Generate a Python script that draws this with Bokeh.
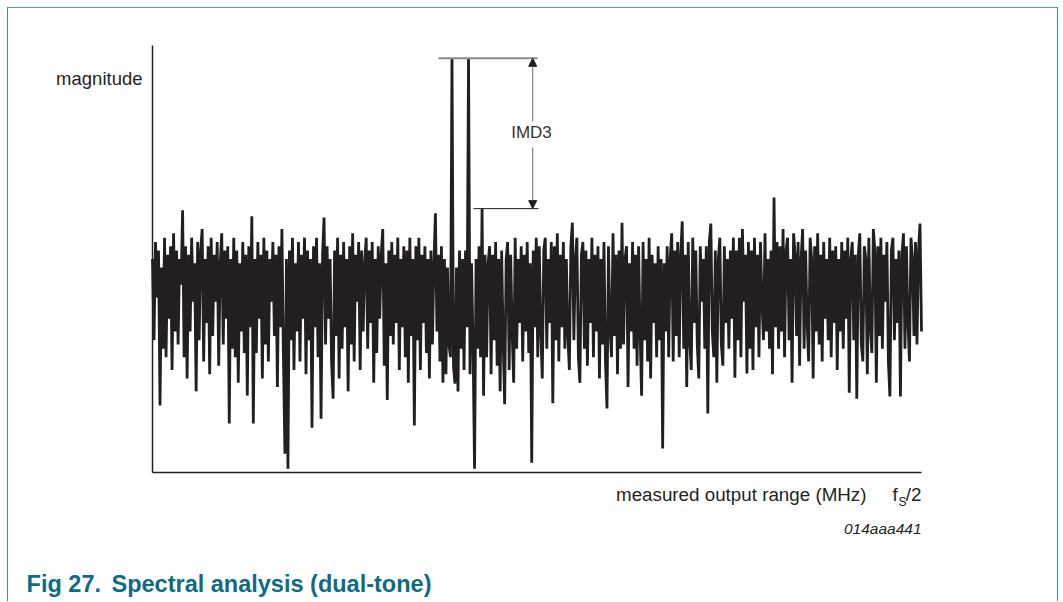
import numpy as np
from bokeh.plotting import figure
from bokeh.models import Label, Arrow, NormalHead, Range1d
from bokeh.embed import file_html
from bokeh.resources import INLINE

# Spectrum magnitude (arbitrary units, 0 = bottom of axis, 100 = top of axis),
# evenly spaced from 0 to fs/2.
magnitude = [
    50, 31, 54, 41, 52, 15.7, 48, 29, 55, 27, 51, 36, 53, 24, 56, 33,
    52, 30, 50, 44, 61.4, 27, 53, 22, 51, 33, 55, 40, 49, 19, 54, 31,
    52, 57, 26, 50, 35, 53, 23, 55, 32, 51, 40, 54, 25, 49, 56, 30,
    52, 36, 53, 11.5, 50, 29, 55, 27, 52, 21, 49, 33, 54, 28, 51, 18,
    53, 34, 60, 11.5, 50, 28, 54, 36, 51, 22, 55, 30, 52, 26, 50, 40,
    54, 32, 51, 20, 53, 34, 57, 27, 4.4, 50, 0.9, 52, 31, 55, 24, 49,
    33, 54, 26, 51, 36, 55, 23, 52, 31, 50, 10.5, 53, 34, 55, 27, 49,
    12.6, 51, 59.7, 30, 53, 36, 50, 26, 17.3, 52, 32, 55, 22, 51, 29, 54,
    34, 50, 19, 53, 30, 56, 26, 51, 40, 54, 24, 52, 33, 49, 55, 29,
    52, 35, 54, 21, 50, 28, 53, 36, 51, 57, 25, 49, 17, 52, 32, 54,
    30, 51, 35, 55, 24, 50, 34, 53, 27, 52, 21, 55, 32, 50, 11, 53,
    31, 55, 24, 51, 35, 53, 28, 50, 22, 52, 30, 49, 60.7, 33, 51, 26,
    53, 21, 50, 23, 48, 30, 27, 97, 25, 20.8, 48, 19, 52, 29, 50, 24,
    52, 34, 97, 23, 49, 30, 0.9, 50, 29, 53, 27, 61.8, 18, 51, 27, 49,
    53, 23, 51, 31, 54, 25, 50, 19, 52, 31, 16, 50, 54, 24, 51, 33,
    21, 55, 29, 50, 35, 53, 26, 51, 33, 54, 28, 49, 2.3, 52, 34, 55,
    27, 53, 33, 22, 52, 55, 29, 50, 35, 54, 16.2, 53, 31, 56, 26, 51,
    34, 54, 29, 50, 32, 24, 53, 58.5, 31, 50, 55, 27, 21, 51, 54, 29,
    52, 25, 50, 35, 55, 27, 51, 33, 53, 22, 50, 30, 54, 26, 15, 53,
    34, 27, 56, 32, 51, 23, 52, 29, 58.5, 30, 50, 53, 20, 49, 33, 54,
    29, 51, 25, 53, 33, 18, 54, 31, 50, 26, 55, 22, 51, 35, 49, 27,
    53, 31, 50, 5.6, 49, 33, 53, 27, 50, 56, 26, 52, 32, 54, 27, 51,
    58.8, 29, 51, 20, 54, 31, 24, 55, 35, 52, 30, 22, 53, 40, 50, 29,
    53, 13.8, 54, 58.3, 33, 27, 52, 21, 50, 55, 30, 25, 53, 35, 50, 29,
    52, 36, 55, 22.2, 52, 31, 55, 27, 57, 40, 51, 23.2, 54, 29, 52, 24,
    55, 34, 51, 27, 54, 40, 31, 56, 33, 50, 29, 52, 23, 64.4, 34, 54,
    29, 53, 33, 57, 27, 52, 55, 31, 50, 21, 56, 51, 32, 54, 25, 50,
    57, 29, 52, 35, 26, 55, 50, 22, 53, 33, 56, 30, 51, 26, 54, 36,
    50, 31, 55, 27, 52, 35, 53, 24, 50, 33, 54, 29, 52, 36, 55, 18.7,
    50, 54, 31, 51, 17.3, 51, 56, 30, 26, 53, 50, 23, 55, 34, 28, 57,
    52, 21, 53, 32, 55, 29, 51, 40, 54, 26, 17.8, 52, 55, 31, 50, 35,
    52, 17.8, 51, 56, 29, 53, 35, 26, 55, 50, 32, 54, 30, 52, 58.3, 33,
]
freq = np.linspace(0.0, 1.0, len(magnitude))  # fraction of fs/2

IMD3_INDEX = 219
tone_level = max(magnitude)
imd3_level = magnitude[IMD3_INDEX]

INK = "#231f20"
TEAL = "#0d6c83"
FONT = "Liberation Sans"

# The frame covers the whole canvas; axis lines are drawn at x=0 and y=0.
p = figure(width=1051, height=594, output_backend="svg", toolbar_location=None,
           x_range=Range1d(-0.18726, 1.17945), y_range=Range1d(-30.445, 108.665),
           min_border=0)
p.styles = {"margin-left": "7px", "margin-top": "7px",
            "border-left": "1px solid #3f8f9d", "border-top": "1px solid #5a9eab",
            "border-right": "1px solid #3f8f9d"}
p.background_fill_color = "white"
p.border_fill_color = "white"
p.outline_line_color = None
p.grid.visible = False
p.axis.visible = False

# axes
p.segment(x0=[0, 0], y0=[0, 0], x1=[0, 1], y1=[100, 0], line_color=INK, line_width=1.5)

p.line(freq, magnitude, line_color=INK, line_width=2.8, line_join="miter")

# IMD3 reference lines
p.segment(x0=[0.372], y0=[tone_level], x1=[0.5007], y1=[tone_level],
          line_color="#8a8a8a", line_width=2)
p.segment(x0=[0.4174], y0=[imd3_level], x1=[0.502], y1=[imd3_level],
          line_color=INK, line_width=1)
xa = 0.4944
p.add_layout(Arrow(end=NormalHead(size=8, fill_color=INK, line_color=INK),
                   x_start=xa, y_start=82.2, x_end=xa, y_end=tone_level,
                   line_color="#6a6a6a", line_width=1))
p.add_layout(Arrow(end=NormalHead(size=8, fill_color=INK, line_color=INK),
                   x_start=xa, y_start=76.1, x_end=xa, y_end=imd3_level,
                   line_color="#6a6a6a", line_width=1))
p.add_layout(Label(x=0.4928, y=79.6, text="IMD3", text_align="center", text_baseline="middle",
                   text_font=FONT, text_font_size="17px", text_color="#333333"))

# axis texts
p.add_layout(Label(x=-0.013, y=92.3, text="magnitude", text_align="right", text_baseline="middle",
                   text_font=FONT, text_font_size="18.5px", text_color=INK))
p.add_layout(Label(x=0.9285, y=-5.2, text="measured output range (MHz)", text_align="right",
                   text_baseline="middle", text_font=FONT, text_font_size="18.8px", text_color=INK))
p.add_layout(Label(x=0.9623, y=-5.2, text="f", text_align="left", text_baseline="middle",
                   text_font=FONT, text_font_size="18.8px", text_color=INK))
p.add_layout(Label(x=0.9701, y=-6.9, text="S", text_align="left", text_baseline="middle",
                   text_font=FONT, text_font_size="12px", text_color=INK))
p.add_layout(Label(x=1.0, y=-5.2, text="/2", text_align="right", text_baseline="middle",
                   text_font=FONT, text_font_size="18.8px", text_color=INK))
p.add_layout(Label(x=1.0, y=-13.1, text="014aaa441", text_align="right", text_baseline="middle",
                   text_font=FONT, text_font_size="15.5px", text_font_style="italic", text_color=INK))

# caption
p.add_layout(Label(x=-0.1638, y=-26.0, text="Fig 27.", text_align="left", text_baseline="middle",
                   text_font=FONT, text_font_size="23.5px", text_font_style="bold", text_color=TEAL))
p.add_layout(Label(x=-0.0533, y=-26.0, text="Spectral analysis (dual-tone)", text_align="left",
                   text_baseline="middle", text_font=FONT, text_font_size="23.5px",
                   text_font_style="bold", text_color=TEAL))

open("out.html", "w").write(file_html(p, INLINE))
